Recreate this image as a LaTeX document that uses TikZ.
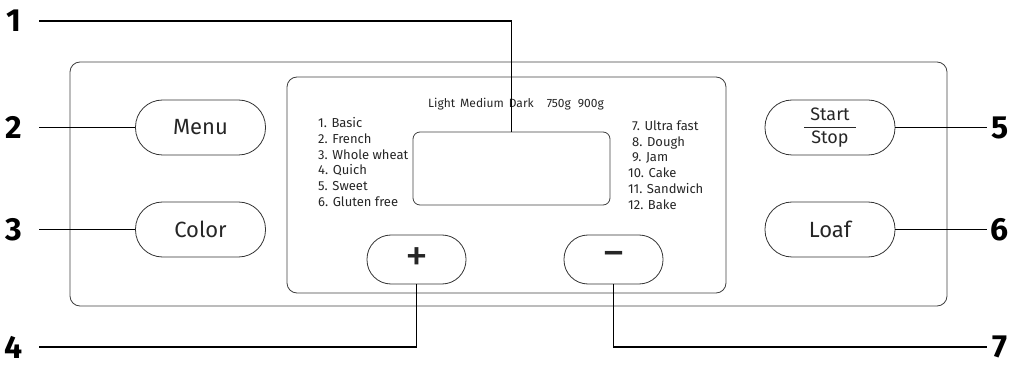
\documentclass[tikz,border=0pt]{standalone}
\usepackage{fontspec}
\setmainfont{Fira Sans}
\begin{document}
\begin{tikzpicture}[x=1pt,y=-1pt,
    panel/.style ={draw=black!75, line width=0.8pt, rounded corners=10pt, inner sep=0pt},
    button/.style ={draw=black!80, line width=0.8pt, rounded corners=27pt, minimum width=130pt, minimum height=55pt, text=black!85, font=\fontsize{22}{22}\selectfont},
    small/.style ={button, minimum width=99pt, minimum height=49pt, rounded corners=24pt, font=\fontsize{46}{46}\selectfont},
    lnum/.style ={font=\bfseries\fontsize{32}{32}\selectfont, inner sep=0pt, minimum width=50pt},
    rnum/.style ={lnum, minimum width=26pt},
    list/.style ={font=\fontsize{13}{15.7}\selectfont, align=left, inner sep=0pt, text=black!85},
    lead/.style ={line width=1.1pt}]
   \useasboundingbox (0,0) rectangle (1023,366);
   % housing, control face and display
   \node[panel, minimum width=877pt, minimum height=244pt] (body) at (508.5,184) {};
   \node[panel, minimum width=439pt, minimum height=216pt] (face) at (506.5,185) {};
   \node[panel, rounded corners=7pt, minimum width=197pt, minimum height=73pt] (disp) at (511.5,168.5) {};
   % buttons
   \node[button] (menu) at (200.5,127.5) {Menu};
   \node[button] (color) at (200.5,229.5) {Color};
   \node[button, font=\fontsize{18}{18}\selectfont] (start) at (830,127.5) {$\displaystyle\frac{\mbox{\hspace{6pt}Start\hspace{6pt}}}{\mbox{Stop}}$};
   \node[button] (loaf) at (830,229.5) {Loaf};
   \node[small] (plus) at (416.5,259.5) {+};
   \node[small] (minus) at (613.5,259.5) {−};
   % printed texts
   \node[list, font=\fontsize{12}{12}\selectfont] (shade) at (516,104) {Light\hspace{5pt}Medium\hspace{5pt}Dark\hspace{13pt}750g\hspace{7pt}900g};
   \node[list, anchor=west] (modes) at (318,162) {1. Basic\\2. French\\3. Whole wheat\\4. Quich\\5. Sweet\\6. Gluten free};
   \node[list, anchor=west] (extra) at (628,165) {\hspace*{4pt}7. Ultra fast\\\hspace*{4pt}8. Dough\\\hspace*{4pt}9. Jam\\10. Cake\\11. Sandwich\\12. Bake};
   % callout numbers
   \node[lnum] (l1) at (14,21) {1};
   \node[lnum] (l2) at (14,127.5) {2};
   \node[lnum] (l3) at (14,229.5) {3};
   \node[lnum] (l4) at (14,347) {4};
   \node[rnum] (l5) at (1000,127.5) {5};
   \node[rnum] (l6) at (1000,229.5) {6};
   \node[rnum] (l7) at (1000,347) {7};
   \draw[lead] (l1) -| (disp.north);
   \draw[lead] (l2) -- (menu);
   \draw[lead] (l3) -- (color);
   \draw[lead] (l4) -| (plus);
   \draw[lead] (start) -- (l5);
   \draw[lead] (loaf) -- (l6);
   \draw[lead] (l7) -| (minus);
 \end{tikzpicture}
\end{document}
